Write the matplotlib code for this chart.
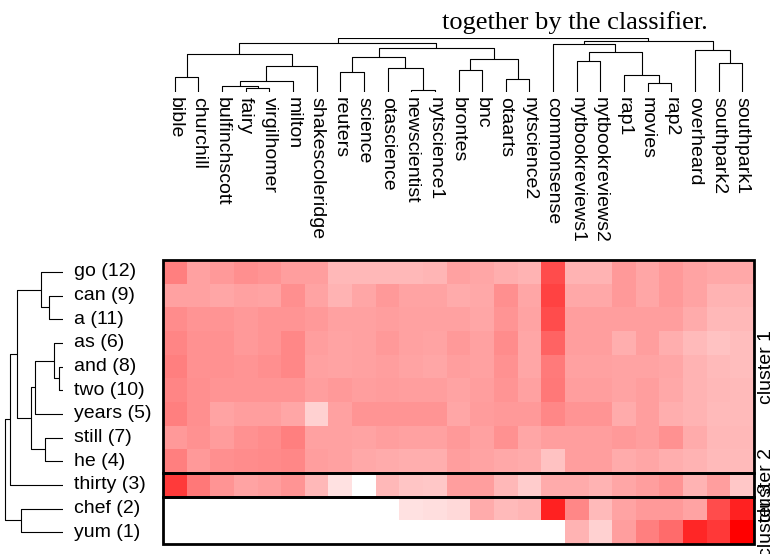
import numpy as np
import matplotlib
matplotlib.use("Agg")
import matplotlib.pyplot as plt
from matplotlib.colors import LinearSegmentedColormap
from matplotlib.patches import Rectangle
from matplotlib.transforms import blended_transform_factory

plt.rcParams['font.family'] = ['Liberation Sans', 'DejaVu Sans']

# corpora (columns), in dendrogram order
corpora = ["bible", "churchill", "bulfinchscott", "fairy", "virgilhomer", "milton",
           "shakescoleridge", "reuters", "science", "otascience", "newscientist",
           "nytscience1", "brontes", "bnc", "otaarts", "nytscience2", "commonsense",
           "nytbookreviews1", "nytbookreviews2", "rap1", "movies", "rap2",
           "overheard", "southpark2", "southpark1"]

# words (rows) and their ids
words = ["go", "can", "a", "as", "and", "two", "years", "still", "he", "thirty", "chef", "yum"]
word_ids = [12, 9, 11, 6, 8, 10, 5, 7, 4, 3, 2, 1]

go     = [0.50, 0.37, 0.40, 0.44, 0.42, 0.38, 0.38, 0.28, 0.28, 0.28, 0.28, 0.29, 0.37, 0.35, 0.32, 0.30, 0.70, 0.30, 0.30, 0.40, 0.35, 0.40, 0.36, 0.34, 0.34]
can    = [0.37, 0.37, 0.35, 0.37, 0.36, 0.44, 0.36, 0.30, 0.35, 0.40, 0.36, 0.36, 0.33, 0.34, 0.44, 0.35, 0.74, 0.34, 0.34, 0.40, 0.35, 0.40, 0.36, 0.30, 0.30]
a      = [0.45, 0.42, 0.42, 0.40, 0.42, 0.42, 0.40, 0.37, 0.37, 0.38, 0.37, 0.37, 0.37, 0.35, 0.42, 0.36, 0.70, 0.38, 0.38, 0.38, 0.38, 0.38, 0.33, 0.28, 0.28]
as_    = [0.48, 0.43, 0.43, 0.40, 0.42, 0.47, 0.38, 0.36, 0.37, 0.40, 0.37, 0.36, 0.40, 0.37, 0.45, 0.35, 0.61, 0.38, 0.38, 0.32, 0.38, 0.32, 0.27, 0.24, 0.26]
and_   = [0.50, 0.43, 0.43, 0.42, 0.44, 0.47, 0.37, 0.36, 0.37, 0.38, 0.36, 0.35, 0.38, 0.37, 0.43, 0.35, 0.52, 0.37, 0.37, 0.36, 0.36, 0.35, 0.30, 0.27, 0.26]
two    = [0.48, 0.44, 0.42, 0.42, 0.42, 0.42, 0.38, 0.40, 0.38, 0.39, 0.38, 0.38, 0.36, 0.38, 0.42, 0.37, 0.53, 0.38, 0.38, 0.36, 0.38, 0.34, 0.30, 0.28, 0.27]
years  = [0.50, 0.44, 0.36, 0.38, 0.38, 0.35, 0.18, 0.37, 0.42, 0.42, 0.42, 0.42, 0.35, 0.39, 0.40, 0.40, 0.47, 0.42, 0.42, 0.33, 0.38, 0.32, 0.30, 0.27, 0.27]
still  = [0.40, 0.43, 0.39, 0.43, 0.45, 0.50, 0.37, 0.37, 0.36, 0.38, 0.37, 0.37, 0.40, 0.37, 0.43, 0.35, 0.38, 0.38, 0.38, 0.40, 0.38, 0.43, 0.33, 0.28, 0.28]
he     = [0.50, 0.40, 0.44, 0.45, 0.46, 0.47, 0.38, 0.37, 0.34, 0.33, 0.32, 0.32, 0.38, 0.36, 0.34, 0.33, 0.24, 0.38, 0.38, 0.33, 0.35, 0.32, 0.30, 0.27, 0.27]
thirty = [0.77, 0.53, 0.42, 0.36, 0.38, 0.42, 0.28, 0.12, 0.00, 0.28, 0.23, 0.22, 0.38, 0.38, 0.28, 0.20, 0.33, 0.33, 0.30, 0.35, 0.38, 0.42, 0.30, 0.38, 0.22]
chef   = [0.00, 0.00, 0.00, 0.00, 0.00, 0.00, 0.00, 0.00, 0.00, 0.00, 0.12, 0.13, 0.15, 0.33, 0.27, 0.29, 0.87, 0.47, 0.27, 0.36, 0.40, 0.40, 0.36, 0.70, 0.87]
yum    = [0.00, 0.00, 0.00, 0.00, 0.00, 0.00, 0.00, 0.00, 0.00, 0.00, 0.00, 0.00, 0.00, 0.00, 0.00, 0.00, 0.00, 0.30, 0.18, 0.38, 0.50, 0.58, 0.85, 0.78, 1.00]

cluster_names = ["cluster 1", "cluster 2", "cluster 3"]
cluster_sizes = [9, 1, 2]

# hierarchical merges: (left, right, height); ints refer to earlier merges
col_merges = [
    ("bible", "churchill", 15),
    ("fairy", "virgilhomer", 4),
    ("bulfinchscott", 1, 6),
    (2, "milton", 11),
    (3, "shakescoleridge", 26),
    (0, 4, 38),
    ("reuters", "science", 20),
    ("newscientist", "nytscience1", 2),
    ("otascience", 7, 24),
    (6, 8, 35),
    ("brontes", "bnc", 22),
    ("otaarts", "nytscience2", 13),
    (10, 11, 33),
    (9, 12, 44.5),
    (5, 13, 49),
    ("nytbookreviews1", "nytbookreviews2", 31),
    ("movies", "rap2", 9),
    ("rap1", 16, 17),
    (15, 17, 40),
    ("commonsense", 18, 48),
    ("southpark2", "southpark1", 29),
    ("overheard", 20, 42),
    (19, 21, 51),
    (14, 22, 54),
]
row_merges = [
    ("can", "a", 14),
    ("go", 0, 22),
    ("and", "two", 4),
    ("as", 2, 9),
    (3, "years", 28),
    ("still", "he", 18),
    (4, 5, 32),
    (1, 6, 46),
    (7, "thirty", 53),
    ("chef", "yum", 42),
    (8, 9, 58),
]

values = np.array([go, can, a, as_, and_, two, years, still, he, thirty, chef, yum])
row_labels = [f"{w} ({i})" for w, i in zip(words, word_ids)]


def dendro_segments(leaves, merges):
    pos = {name: i + 0.5 for i, name in enumerate(leaves)}
    nodes = []
    segs = []

    def get(k):
        return nodes[k] if isinstance(k, int) else (pos[k], 0.0)

    for l, r, h in merges:
        xl, hl = get(l)
        xr, hr = get(r)
        segs.append(([xl, xl, xr, xr], [hl, h, h, hr]))
        nodes.append(((xl + xr) / 2, h))
    return segs


W, H = 772, 554
fig = plt.figure(figsize=(W / 100, H / 100), dpi=100)


def box(l, t, r, b):
    return [l / W, 1 - b / H, (r - l) / W, (b - t) / H]


ax = fig.add_axes(box(163, 260, 754, 544))
ax_top = fig.add_axes(box(163, 38, 754, 92))
ax_left = fig.add_axes(box(3, 260, 63, 544))

cmap = LinearSegmentedColormap.from_list("wr", ["white", "red"])
ax.pcolormesh(np.arange(len(corpora) + 1), np.arange(len(words) + 1), values,
              cmap=cmap, vmin=0, vmax=1)
ax.set_xlim(0, len(corpora))
ax.set_ylim(len(words), 0)
ax.set_xticks([])
ax.set_yticks([])
for s in ax.spines.values():
    s.set_visible(False)

# cluster boxes + labels on the right
row_tr = blended_transform_factory(ax.transAxes, ax.transData)
start = 0
for name, n in zip(cluster_names, cluster_sizes):
    ax.add_patch(Rectangle((0, start), len(corpora), n, fill=False,
                           edgecolor="black", lw=2, clip_on=False, zorder=5))
    ax.text(1 + 4 / 591, start + n / 2, name, transform=row_tr, rotation=90,
            ha="left", va="center", fontsize=14)
    start += n

# row labels
for i, lab in enumerate(row_labels):
    ax.text(-89 / 591, i + 0.5, lab, transform=row_tr, ha="left", va="center",
            fontsize=14)

# column labels
col_tr = blended_transform_factory(ax.transData, ax.transAxes)
for j, lab in enumerate(corpora):
    ax.text(j + 0.5, 1 + 163 / 284, lab, transform=col_tr, rotation=270,
            ha="center", va="top", fontsize=14)

# top dendrogram
for xs, hs in dendro_segments(corpora, col_merges):
    ax_top.plot(xs, hs, color="black", lw=0.8, solid_capstyle="butt")
ax_top.set_xlim(0, len(corpora))
ax_top.set_ylim(0, 54)
ax_top.axis("off")

# left dendrogram
for ys, hs in dendro_segments(words, row_merges):
    ax_left.plot(hs, ys, color="black", lw=0.8, solid_capstyle="butt")
ax_left.set_ylim(len(words), 0)
ax_left.set_xlim(60, 0)
ax_left.axis("off")

fig.text(442 / W, 1 - 29 / H, "together by the classifier.", family="Liberation Serif",
         fontsize=19, ha="left", va="baseline")

fig.savefig("out.png", dpi=100)
